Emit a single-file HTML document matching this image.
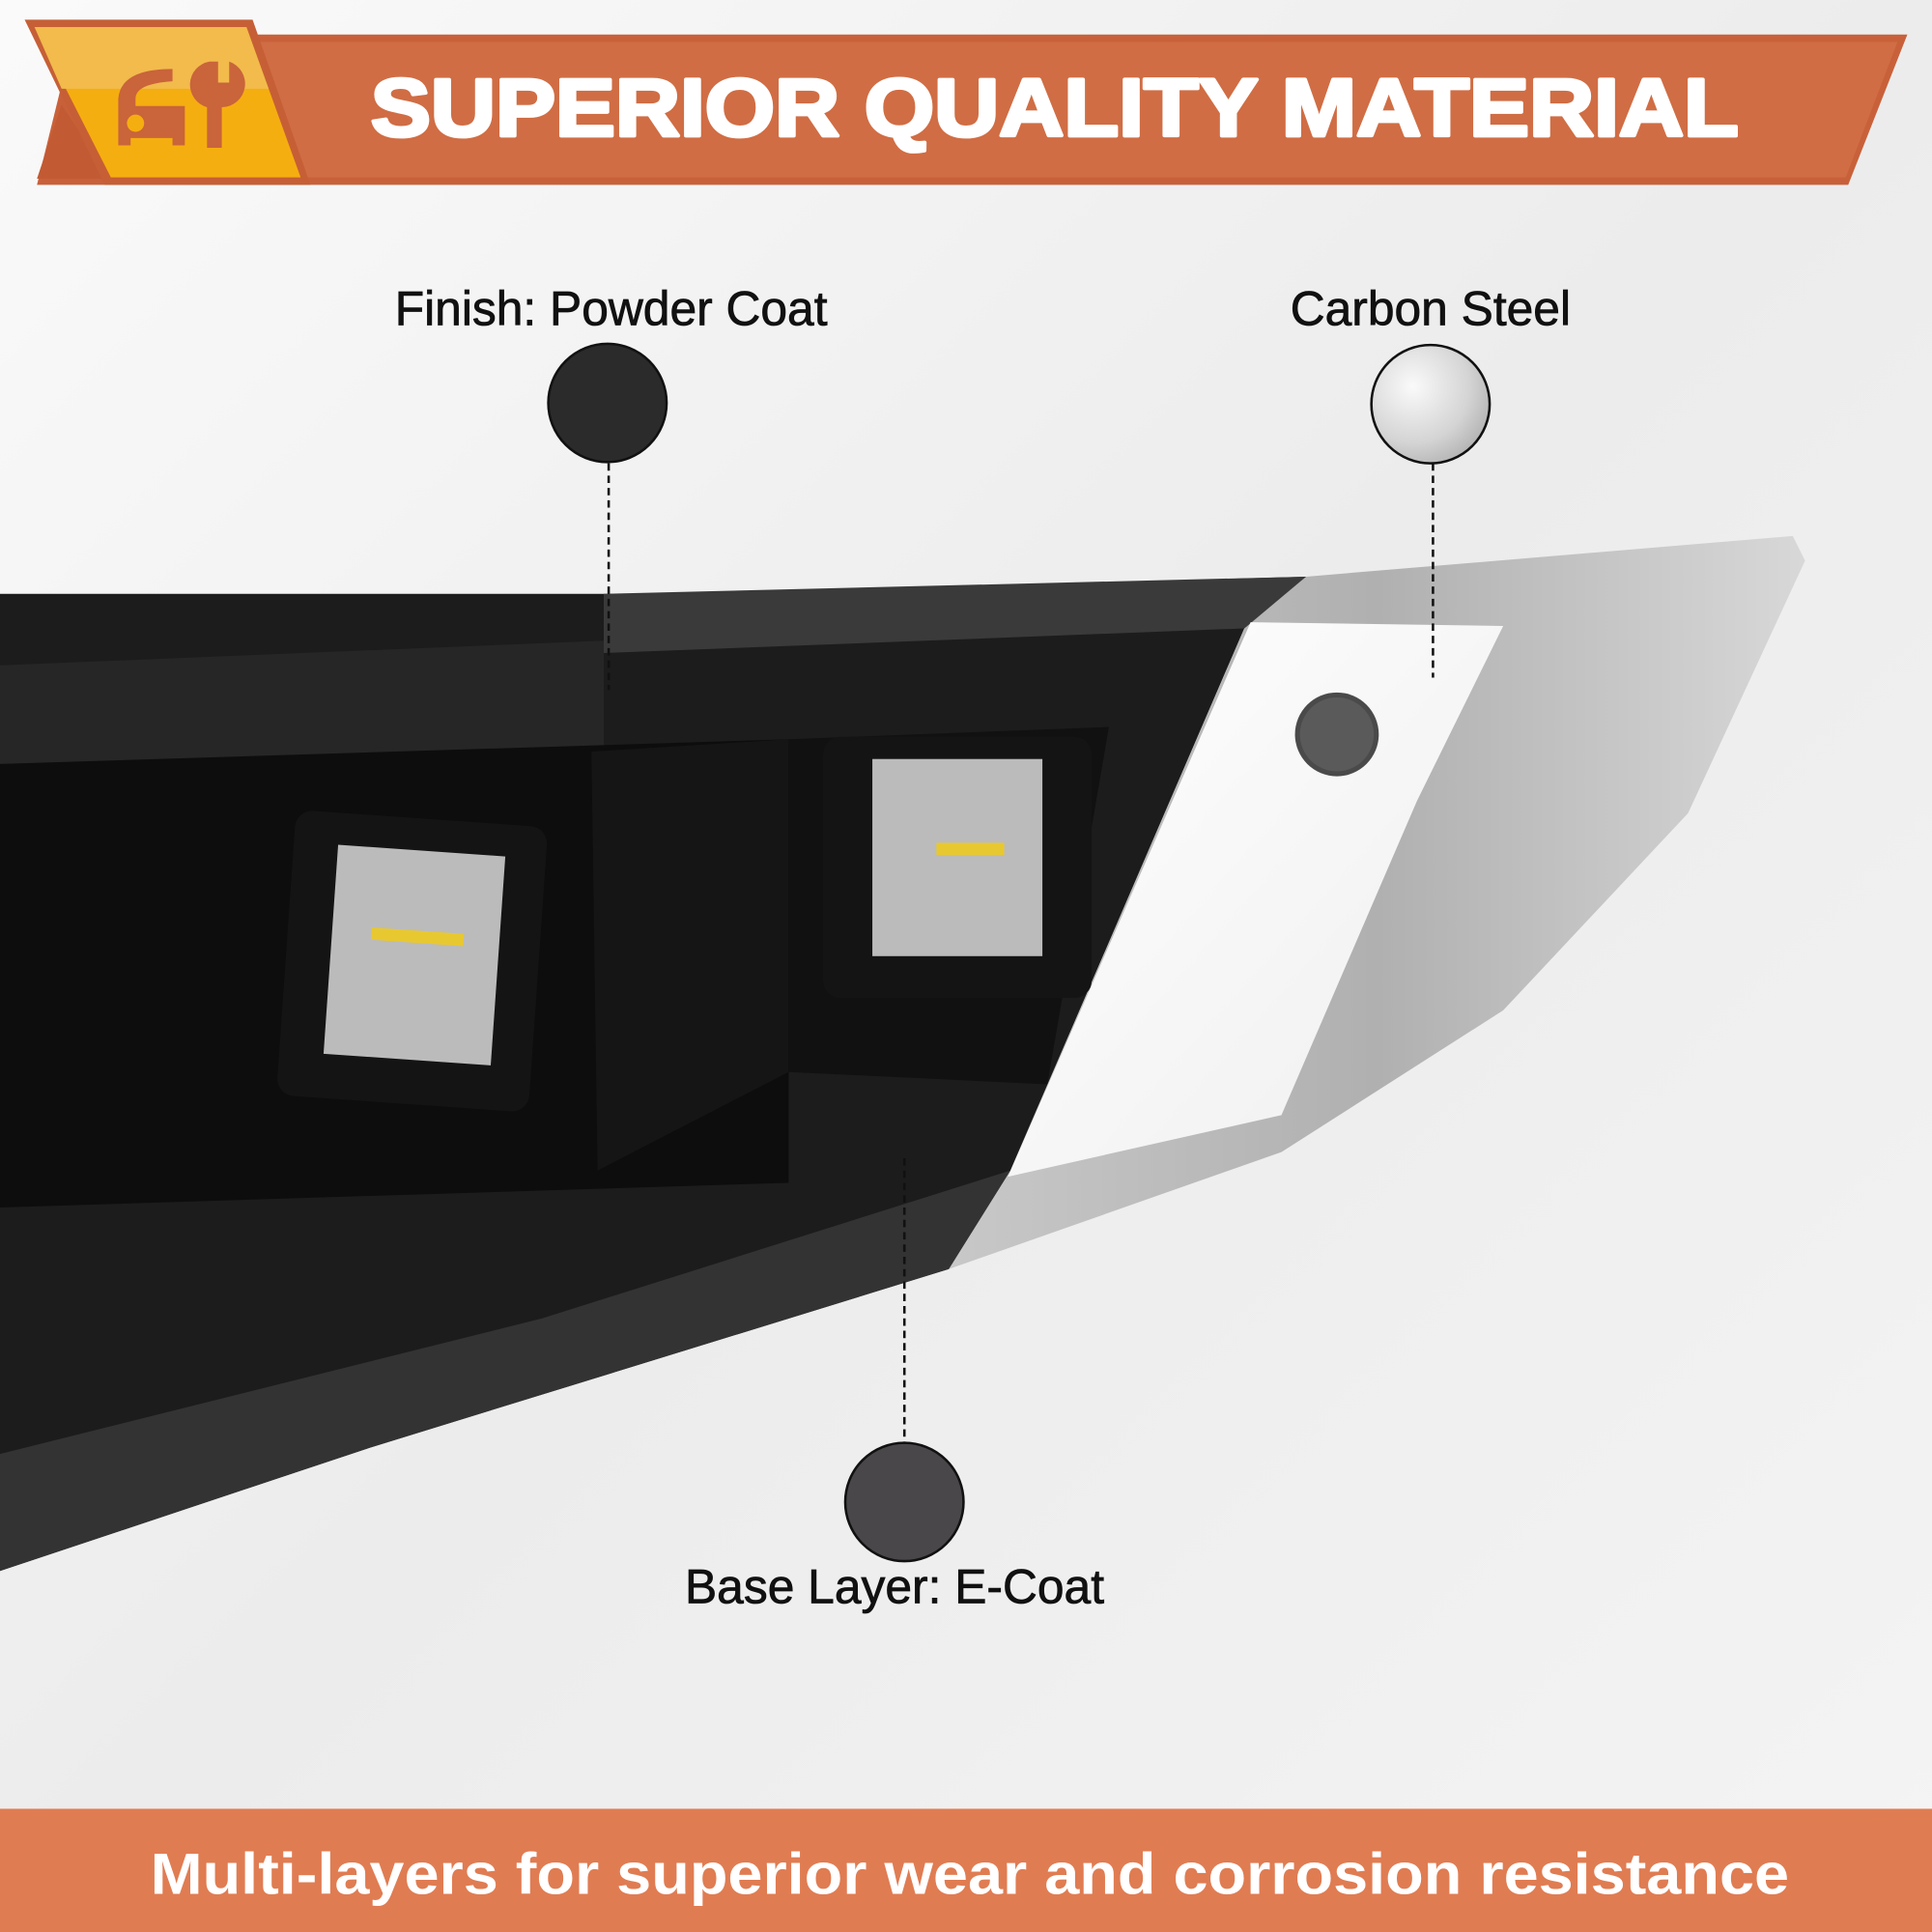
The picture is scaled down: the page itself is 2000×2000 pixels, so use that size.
<!DOCTYPE html>
<html><head><meta charset="utf-8"><style>
html,body{margin:0;padding:0;width:2000px;height:2000px;overflow:hidden;background:#f2f2f2}
svg{display:block}
</style></head><body>
<svg width="2000" height="2000" viewBox="0 0 1568 1568" xmlns="http://www.w3.org/2000/svg">
<defs>
<linearGradient id="bg" x1="0" y1="0" x2="1" y2="1">
<stop offset="0" stop-color="#fafafa"/><stop offset="0.5" stop-color="#ececec"/><stop offset="1" stop-color="#f4f4f4"/></linearGradient>
<linearGradient id="silver" x1="0" y1="0" x2="1" y2="0">
<stop offset="0" stop-color="#c8c8c8"/><stop offset="0.5" stop-color="#b0b0b0"/><stop offset="1" stop-color="#d8d8d8"/></linearGradient>
<radialGradient id="steel" cx="0.35" cy="0.35" r="0.8">
<stop offset="0" stop-color="#fafafa"/><stop offset="0.6" stop-color="#d4d4d4"/><stop offset="1" stop-color="#a8a8a8"/></radialGradient>
<linearGradient id="plate" x1="0" y1="0" x2="1" y2="1">
<stop offset="0" stop-color="#ffffff"/><stop offset="1" stop-color="#eeeeee"/></linearGradient>
</defs>
<rect width="1568" height="1568" fill="url(#bg)"/>
<polygon points="60,28 1548,28 1500,150 30,150" fill="#c8613a"/>
<polygon points="100,34 1540,34 1498,144 60,144" fill="#d06d44"/>
<polygon points="50,85 30,145 90,145" fill="#c25a33"/>
<polygon points="20,16 205,16 252,150 85,150" fill="#c65f36"/>
<polygon points="28,22 200,22 244,144 90,144" fill="#f5ae10"/>
<polygon points="28,22 200,22 218,72 50,72" fill="#f2bb4c"/>
<g fill="#c9643b">
<path d="M96 118 V80 Q98 56 140 56 V66 Q110 68 110 80 V86 H150 V118 H140 V112 H106 V118 Z"/>
<circle cx="110" cy="100" r="7" fill="#f5ae10"/>
<path d="M170 50 h7 v17 h9 v-17 a19 19 0 0 1 -6 37 v33 h-12 v-33 a19 19 0 0 1 2 -37 Z"/>
</g>
<text x="856" y="110" text-anchor="middle" font-family="Liberation Sans, sans-serif" font-weight="bold" font-size="66" fill="#fff" stroke="#fff" stroke-width="3" stroke-linejoin="round" textLength="1110" lengthAdjust="spacingAndGlyphs">SUPERIOR QUALITY MATERIAL</text>
<polygon points="1060,468 1455,435 1465,455 1370,660 1220,820 1040,935 770,1030 820,950 1010,510" fill="url(#silver)"/>
<polygon points="0,482 570,482 1060,468 1012,505 820,950 770,1030 300,1175 0,1275" fill="#1c1c1c"/>
<polygon points="490,482 1060,468 1010,510 490,530" fill="#3a3a3a"/>
<polygon points="0,540 490,520 490,610 0,620" fill="#262626"/>
<polygon points="0,620 640,600 640,960 0,980" fill="#0d0d0d"/>
<polygon points="480,610 640,600 640,870 485,950" fill="#151515"/>
<polygon points="640,600 900,590 850,880 640,870" fill="#111"/>
<polygon points="300,1175 770,1030 820,950 440,1070 0,1180 0,1275" fill="#333"/>
<polygon points="1015,505 1220,508 1150,650 1040,905 818,955" fill="url(#plate)"/>
<circle cx="1085" cy="596" r="34" fill="#4a4a4a"/>
<circle cx="1085" cy="596" r="30" fill="#5a5a5a"/>
<g>
<rect x="232" y="664" width="205" height="232" rx="14" fill="#141414" transform="rotate(4 334 780)"/>
<rect x="268" y="690" width="136" height="170" fill="#bbb" transform="rotate(4 334 780)"/>
<rect x="300" y="755" width="75" height="10" fill="#e8c830" transform="rotate(4 334 780)"/>
<rect x="668" y="598" width="218" height="212" rx="14" fill="#141414"/>
<rect x="708" y="616" width="138" height="160" fill="#bbb"/>
<rect x="760" y="684" width="55" height="10" fill="#e8c830"/>
</g>
<g font-family="Liberation Sans, sans-serif" font-size="39" fill="#111" stroke="#111" stroke-width="0.6">
<text x="496" y="264" text-anchor="middle">Finish: Powder Coat</text>
<text x="1161" y="264" text-anchor="middle">Carbon Steel</text>
<text x="726" y="1301" text-anchor="middle">Base Layer: E-Coat</text>
</g>
<g stroke="#111" stroke-width="2" stroke-dasharray="6,4">
<line x1="494" y1="376" x2="494" y2="560"/>
<line x1="1163" y1="376" x2="1163" y2="550"/>
<line x1="734" y1="940" x2="734" y2="1172"/>
</g>
<circle cx="493" cy="327" r="48" fill="#2b2b2b" stroke="#111" stroke-width="2"/>
<circle cx="1161" cy="328" r="48" fill="url(#steel)" stroke="#111" stroke-width="2"/>
<circle cx="734" cy="1219" r="48" fill="#4a474a" stroke="#111" stroke-width="2"/>
<rect x="0" y="1468" width="1568" height="100" fill="#e07c52"/>
<text x="787" y="1537" text-anchor="middle" font-family="Liberation Sans, sans-serif" font-weight="bold" font-size="47" fill="#fff" textLength="1330" lengthAdjust="spacingAndGlyphs">Multi-layers for superior wear and corrosion resistance</text>
</svg>
</body></html>
